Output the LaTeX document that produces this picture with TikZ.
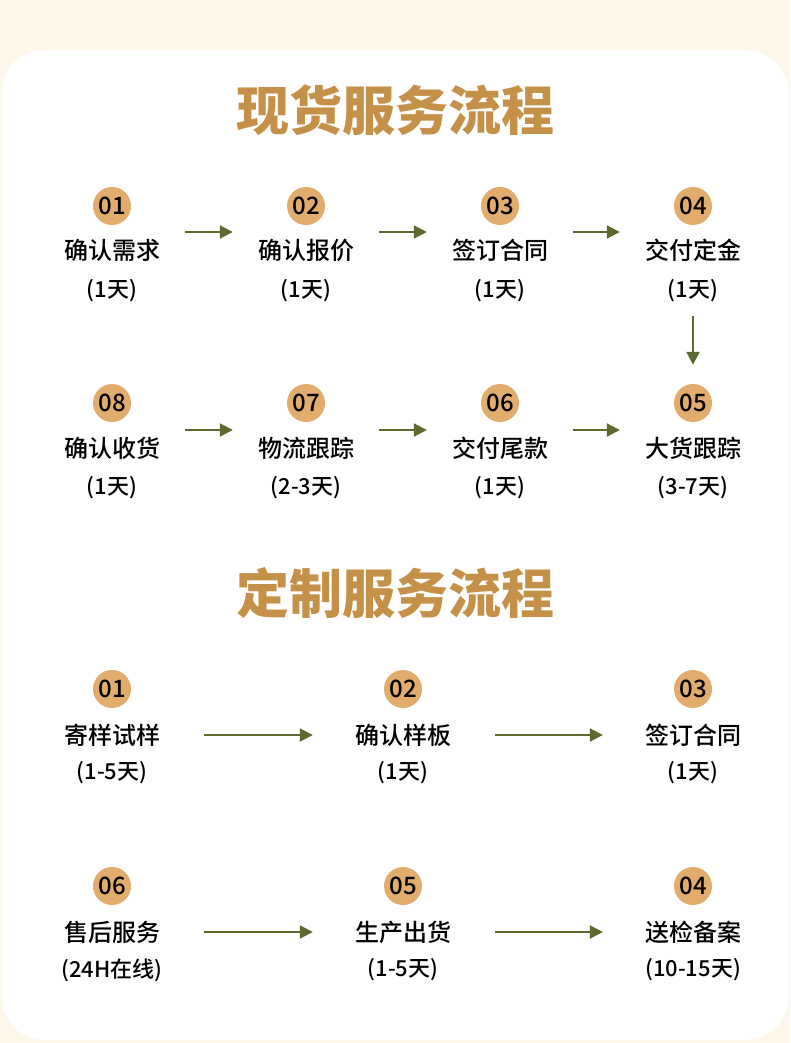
\documentclass[tikz,border=0pt]{standalone}
\usepackage{fontspec}
\setmainfont{Noto Sans CJK SC}
\newfontfamily\medfont{Noto Sans CJK SC}[UprightFont=* Medium]
\newfontfamily\heavyfont{Noto Sans CJK SC}[UprightFont=* Black]
\usetikzlibrary{arrows.meta,positioning,calc}
\definecolor{PageCream}{RGB}{253,247,234}
\definecolor{TitleGold}{RGB}{197,145,72}
\definecolor{BadgeTan}{RGB}{226,172,108}
\definecolor{ArrowOlive}{RGB}{92,106,48}
\tikzset{
  sectitle/.style={font=\fontsize{53}{60}\selectfont\heavyfont,text=TitleGold,inner sep=0pt},
  badge/.style={circle,fill=BadgeTan,minimum size=38pt,inner sep=0pt,
                font=\fontsize{24}{24}\selectfont\medfont},
  steplabel/.style={font=\fontsize{24}{28}\selectfont\medfont,inner sep=0pt},
  dayslabel/.style={font=\fontsize{22}{26}\selectfont\medfont,inner sep=0pt},
  flow/.style={-{Triangle[length=13pt,width=13pt]},ArrowOlive,line width=2pt},
}

\begin{document}
\begin{tikzpicture}[x=1pt,y=-1pt]
    \useasboundingbox[fill=PageCream] (0,0) rectangle (790,1043);
    \fill[white,rounded corners=42pt] (2,50) rectangle (788,1040);

    % Section 1
    \node[sectitle] (t1) at (395,110) {现货服务流程};

    \node[badge] (a1) at (112,206) {01};
    \node[badge] (a2) at (306,206) {02};
    \node[badge] (a3) at (500,206) {03};
    \node[badge] (a4) at (693,206) {04};
    \node[steplabel] (al1) at (112,250) {确认需求};
    \node[steplabel] (al2) at (306,250) {确认报价};
    \node[steplabel] (al3) at (500,250) {签订合同};
    \node[steplabel] (al4) at (693,250) {交付定金};
    \node[dayslabel] (ad1) at (112,291) {(1天)};
    \node[dayslabel] (ad2) at (306,291) {(1天)};
    \node[dayslabel] (ad3) at (500,291) {(1天)};
    \node[dayslabel] (ad4) at (693,291) {(1天)};

    \node[badge] (a8) at (112,403) {08};
    \node[badge] (a7) at (306,403) {07};
    \node[badge] (a6) at (500,403) {06};
    \node[badge] (a5) at (693,403) {05};
    \node[steplabel] (al8) at (112,448) {确认收货};
    \node[steplabel] (al7) at (306,448) {物流跟踪};
    \node[steplabel] (al6) at (500,448) {交付尾款};
    \node[steplabel] (al5) at (693,448) {大货跟踪};
    \node[dayslabel] (ad8) at (112,488) {(1天)};
    \node[dayslabel] (ad7) at (306,488) {(2-3天)};
    \node[dayslabel] (ad6) at (500,488) {(1天)};
    \node[dayslabel] (ad5) at (693,488) {(3-7天)};

    \draw[flow, shorten <=25pt, shorten >=25pt] ([yshift=18pt]al1.east) -- ([yshift=18pt]al2.west);
    \draw[flow, shorten <=25pt, shorten >=25pt] ([yshift=18pt]al2.east) -- ([yshift=18pt]al3.west);
    \draw[flow, shorten <=25pt, shorten >=25pt] ([yshift=18pt]al3.east) -- ([yshift=18pt]al4.west);
    \draw[flow, shorten <=14pt, shorten >=19pt] (ad4.south) -- (a5.north);
    \draw[flow, shorten <=25pt, shorten >=25pt] ([yshift=18pt]al8.east) -- ([yshift=18pt]al7.west);
    \draw[flow, shorten <=25pt, shorten >=25pt] ([yshift=18pt]al7.east) -- ([yshift=18pt]al6.west);
    \draw[flow, shorten <=25pt, shorten >=25pt] ([yshift=18pt]al6.east) -- ([yshift=18pt]al5.west);

    % Section 2
    \node[sectitle] (t2) at (395,593) {定制服务流程};

    \node[badge] (b1) at (112,689) {01};
    \node[badge] (b2) at (403,689) {02};
    \node[badge] (b3) at (693,689) {03};
    \node[steplabel] (bl1) at (112,735) {寄样试样};
    \node[steplabel] (bl2) at (403,735) {确认样板};
    \node[steplabel] (bl3) at (693,735) {签订合同};
    \node[dayslabel] (bd1) at (112,773) {(1-5天)};
    \node[dayslabel] (bd2) at (403,773) {(1天)};
    \node[dayslabel] (bd3) at (693,773) {(1天)};

    \node[badge] (b6) at (112,886) {06};
    \node[badge] (b5) at (403,886) {05};
    \node[badge] (b4) at (693,886) {04};
    \node[steplabel] (bl6) at (112,932) {售后服务};
    \node[steplabel] (bl5) at (403,932) {生产出货};
    \node[steplabel] (bl4) at (693,932) {送检备案};
    \node[dayslabel] (bd6) at (112,970) {(24H在线)};
    \node[dayslabel] (bd5) at (403,970) {(1-5天)};
    \node[dayslabel] (bd4) at (693,970) {(10-15天)};

    \draw[flow, shorten <=44pt, shorten >=42pt] (bl1.east) -- (bl2.west);
    \draw[flow, shorten <=44pt, shorten >=42pt] (bl2.east) -- (bl3.west);
    \draw[flow, shorten <=44pt, shorten >=42pt] (bl6.east) -- (bl5.west);
    \draw[flow, shorten <=44pt, shorten >=42pt] (bl5.east) -- (bl4.west);

\end{tikzpicture}
\end{document}
